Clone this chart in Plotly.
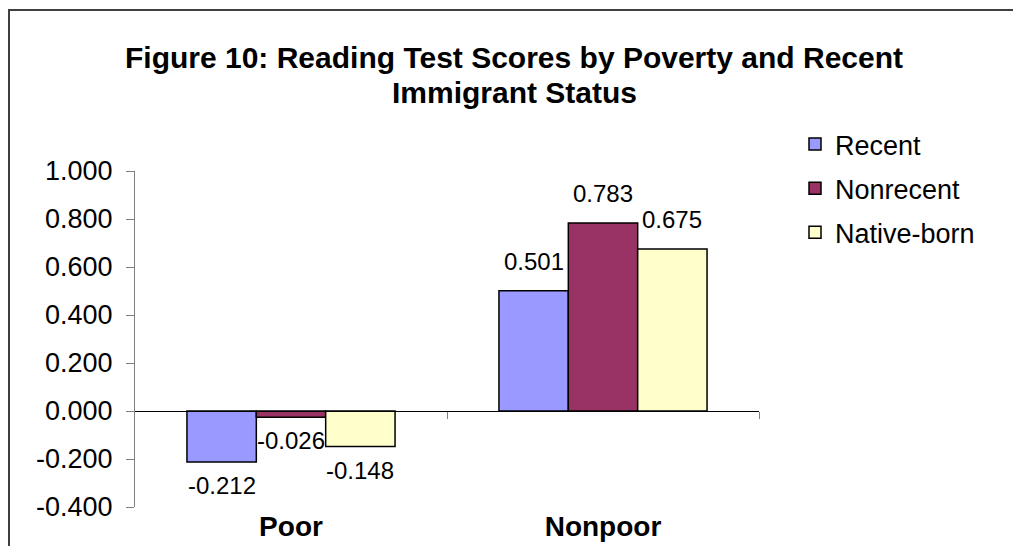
import plotly.graph_objects as go

categories = ["Poor", "Nonpoor"]
series_names = ["Recent", "Nonrecent", "Native-born"]
recent = [-0.212, 0.501]
nonrecent = [-0.026, 0.783]
native_born = [-0.148, 0.675]
colors = ["#9999FF", "#993366", "#FFFFCC"]
y_tick_vals = [-0.4, -0.2, 0.0, 0.2, 0.4, 0.6, 0.8, 1.0]
y_tick_text = ["-0.400", "-0.200", "0.000", "0.200", "0.400", "0.600", "0.800", "1.000"]
title_line1 = "Figure 10: Reading Test Scores by Poverty and Recent"
title_line2 = "Immigrant Status"

FONT = "Liberation Sans, Arial, sans-serif"

# plot area in pixels
W, H = 1013, 546
L, R, T, B = 135, 759, 171, 507
pw, ph = R - L, B - T
BARGAP = 0.333

def px(x):
    return (x - L) / pw

def py(y):
    return (B - y) / ph

series = [recent, nonrecent, native_born]
n = len(series)
bar_w = pw / len(categories) * (1 - BARGAP) / n

fig = go.Figure()
annotations = []
for i, (name, vals, col) in enumerate(zip(series_names, series, colors)):
    fig.add_trace(go.Bar(
        x=categories, y=vals, name=name,
        marker=dict(color=col, line=dict(color="black", width=1.5)),
        legendgroup=name, hoverinfo="x+y",
    ))
    for cat, v in zip(categories, vals):
        annotations.append(dict(
            text=f"{v:.3f}", x=cat, y=v, xref="x", yref="y", showarrow=False,
            xanchor="center", yanchor="bottom" if v >= 0 else "top",
            xshift=(i - (n - 1) / 2) * bar_w, yshift=14 if v >= 0 else -8,
            font=dict(family=FONT, size=24, color="black"),
        ))

# invisible helper trace for the zero axis
fig.add_trace(go.Scatter(x=[], y=[], xaxis="x2", yaxis="y", showlegend=False, hoverinfo="skip"))

zero_pos = (0 - y_tick_vals[0]) / (y_tick_vals[-1] - y_tick_vals[0])

annotations += [
    dict(text=title_line1, xref="paper", yref="paper", x=px(514), y=py(57),
         xanchor="center", yanchor="middle", showarrow=False,
         font=dict(family=FONT, size=30, color="black", weight="bold")),
    dict(text=title_line2, xref="paper", yref="paper", x=px(514), y=py(93),
         xanchor="center", yanchor="middle", showarrow=False,
         font=dict(family=FONT, size=30, color="black", weight="bold")),
]

frame_path = "M {x0},{y0} L {x0},{y1} L {x1},{y1}".format(
    x0=px(9), y0=py(546), y1=py(10), x1=px(1013))

fig.update_layout(
    width=W, height=H,
    margin=dict(l=L, r=W - R, t=T, b=H - B, autoexpand=False),
    paper_bgcolor="white", plot_bgcolor="white",
    barmode="group", bargap=BARGAP, bargroupgap=0,
    font=dict(family=FONT, color="black"),
    showlegend=True,
    legend=dict(x=px(795), y=py(120), xanchor="left", yanchor="top",
                font=dict(family=FONT, size=27, color="black"),
                traceorder="grouped", tracegroupgap=6, bgcolor="rgba(0,0,0,0)"),
    xaxis=dict(range=[-0.5, 1.5], showline=False, ticks="", showgrid=False, zeroline=False,
               tickfont=dict(family=FONT, size=28, color="black", weight="bold"),
               ticklabelstandoff=0),
    xaxis2=dict(overlaying="x", anchor="free", position=zero_pos, range=[-0.5, 1.5],
                showline=True, linecolor="black", linewidth=1, showgrid=False, zeroline=False,
                ticks="outside", tickvals=[0.5, 1.5], ticklen=7, tickcolor="#808080",
                tickwidth=1, showticklabels=False),
    yaxis=dict(range=[y_tick_vals[0], y_tick_vals[-1]], tickvals=y_tick_vals, ticktext=y_tick_text,
               showline=True, linecolor="#808080", linewidth=1, ticks="outside", ticklen=8,
               tickcolor="#808080", showgrid=False, zeroline=False,
               tickfont=dict(family=FONT, size=27, color="black"), ticklabelstandoff=8),
    shapes=[
        dict(type="path", xref="paper", yref="paper", path=frame_path,
             line=dict(color="#404040", width=2), fillcolor="rgba(0,0,0,0)", layer="below"),
    ],
    annotations=annotations,
)

fig.write_html("out.html")
